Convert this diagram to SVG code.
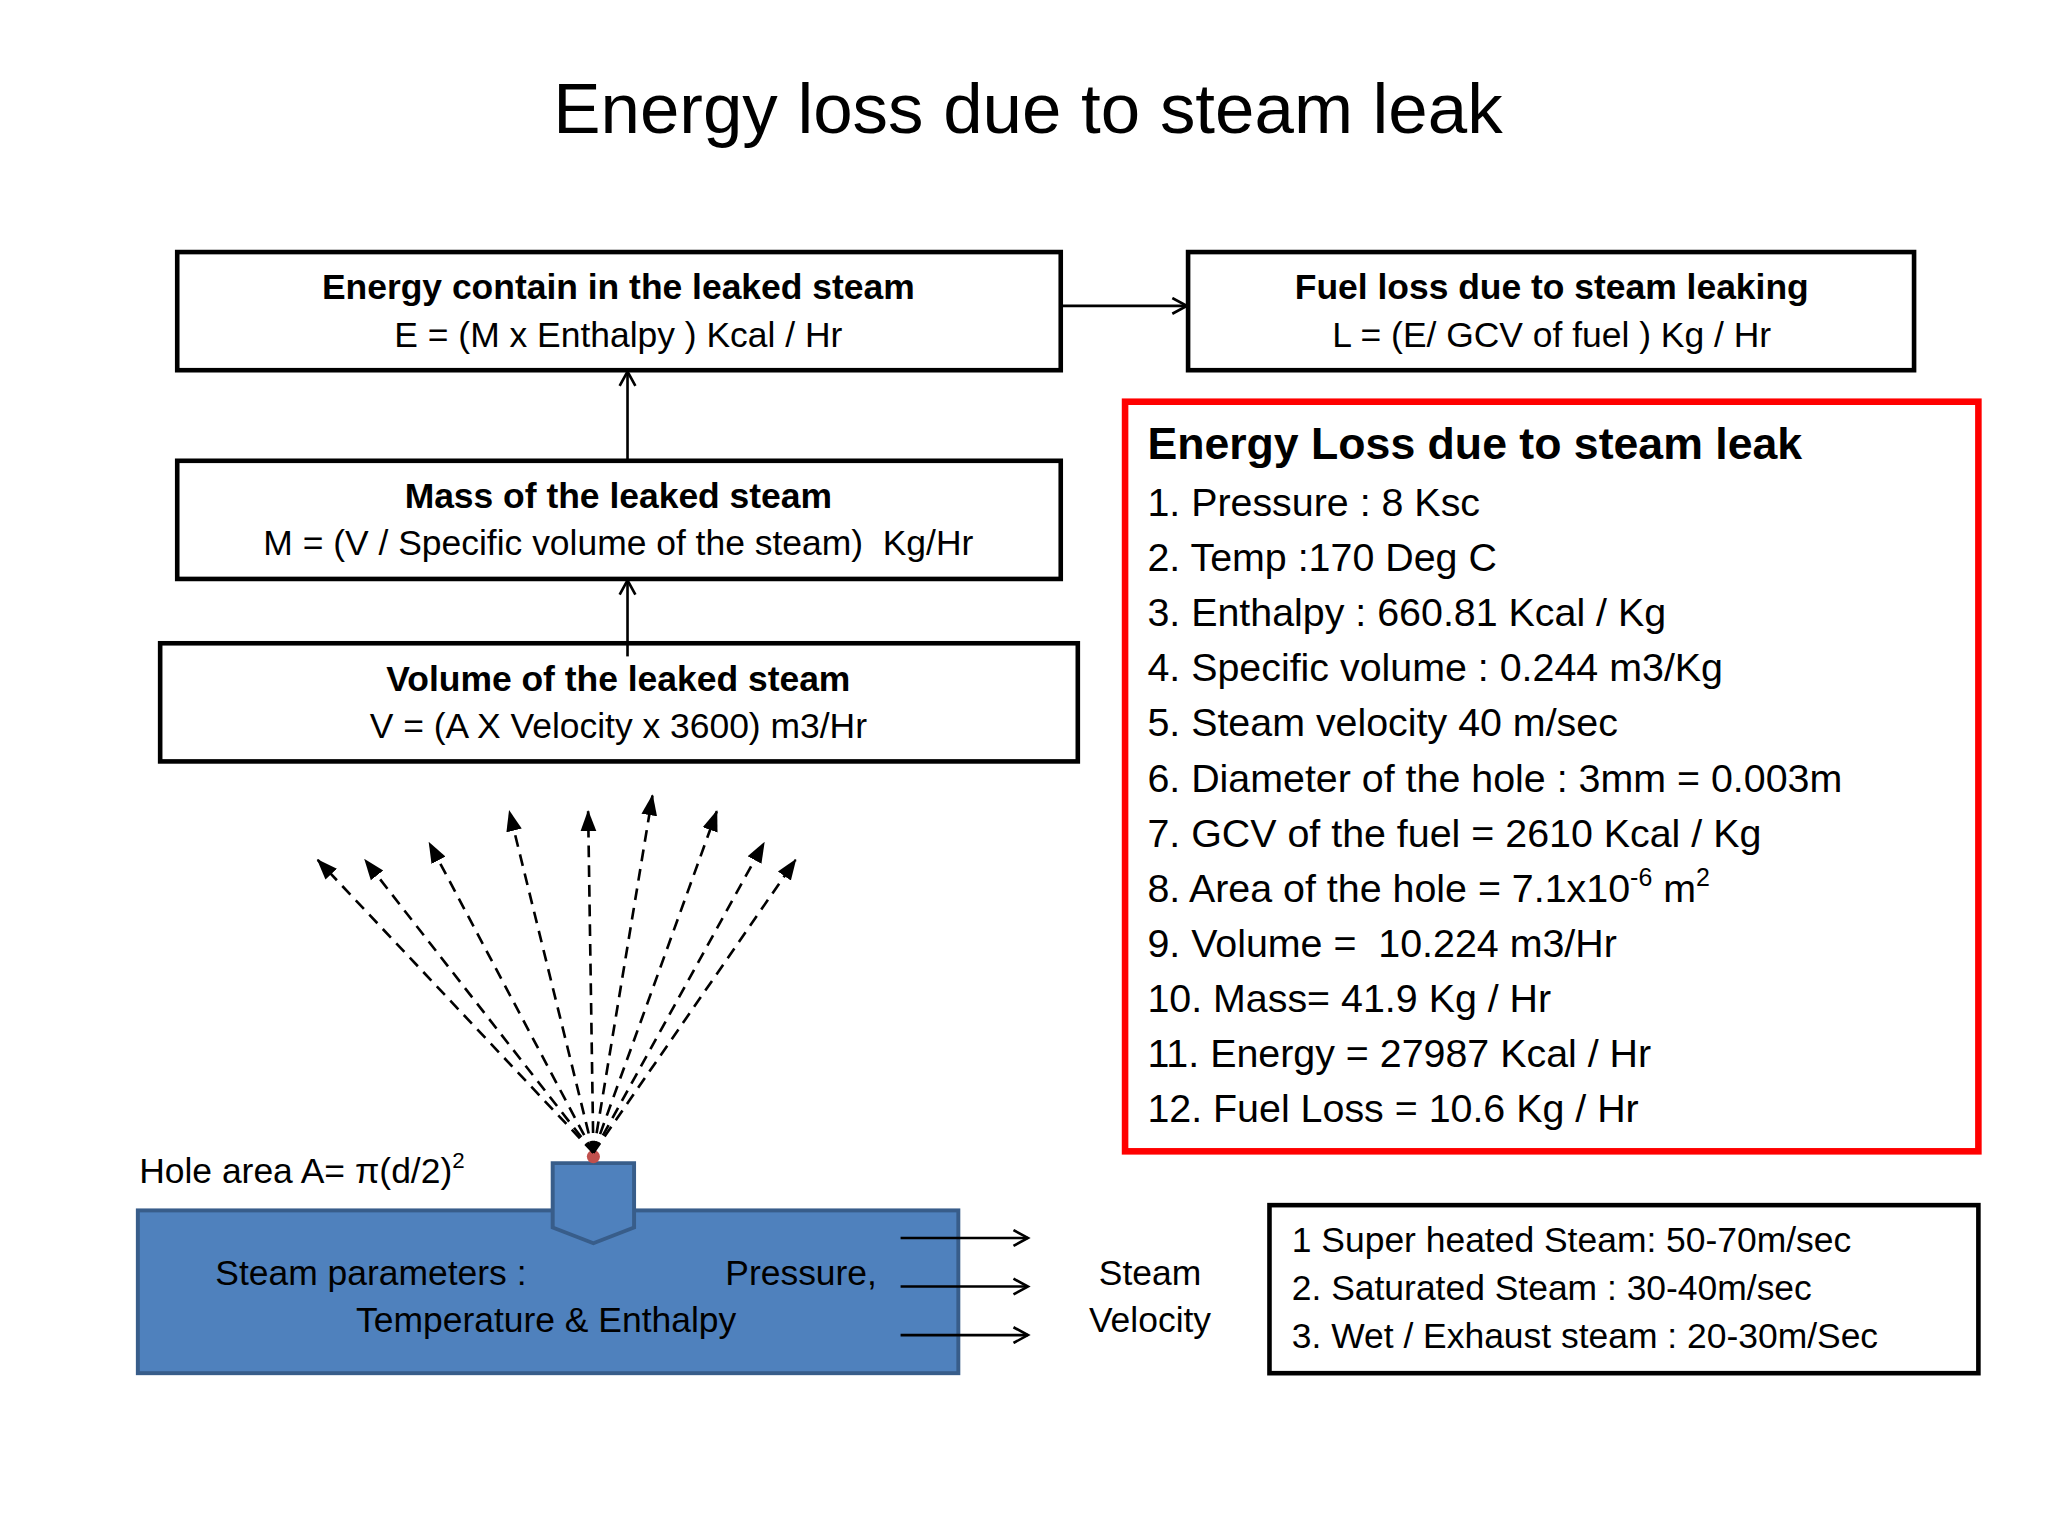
<svg xmlns="http://www.w3.org/2000/svg" width="2048" height="1536" viewBox="0 0 2048 1536">
<style>
text{font-family:"Liberation Sans","DejaVu Sans",sans-serif;fill:#000}
.bx{fill:#fff;stroke:#000;stroke-width:3.5}
.b{font-weight:bold;font-size:27px;text-anchor:middle}
.n{font-size:27px;text-anchor:middle}
.l{font-size:30px}
.c{stroke:#000;stroke-width:2;fill:none}
.d{stroke:#000;stroke-width:2;fill:none;stroke-dasharray:9 6}
</style>
<defs>
<marker id="oa" markerWidth="14" markerHeight="14" refX="12" refY="7" orient="auto" markerUnits="userSpaceOnUse"><path d="M1,1 L12,7 L1,13" fill="none" stroke="#000" stroke-width="2"/></marker>
<marker id="fa" markerWidth="16" markerHeight="14" refX="15" refY="7" orient="auto" markerUnits="userSpaceOnUse"><path d="M0,1 L16,7 L0,13 Z" fill="#000"/></marker>
</defs>
<rect width="2048" height="1536" fill="#fff"/>
<g transform="scale(1.3128)">
<text x="783" y="101" font-size="54" text-anchor="middle">Energy loss due to steam leak</text>
<g id="n-energy"><rect class="bx" x="135" y="192" width="673" height="90"/><text class="b" x="471" y="228">Energy contain in the leaked steam</text><text class="n" x="471" y="264">E = (M x Enthalpy ) Kcal / Hr</text></g>
<g id="n-fuel"><rect class="bx" x="905" y="192" width="553" height="90"/><text class="b" x="1182" y="228">Fuel loss due to steam leaking</text><text class="n" x="1182" y="264">L = (E/ GCV of fuel ) Kg / Hr</text></g>
<g id="n-mass"><rect class="bx" x="135" y="351" width="673" height="90"/><text class="b" x="471" y="387">Mass of the leaked steam</text><text class="n" x="471" y="423" xml:space="preserve">M = (V / Specific volume of the steam)  Kg/Hr</text></g>
<g id="n-volume"><rect class="bx" x="122" y="490" width="699" height="90"/><text class="b" x="471" y="526">Volume of the leaked steam</text><text class="n" x="471" y="562">V = (A X Velocity x 3600) m3/Hr</text></g>
<g id="n-results"><rect x="857" y="306" width="650" height="571" fill="#fff" stroke="#f00" stroke-width="5"/>
<text x="874" y="350" font-size="34" font-weight="bold">Energy Loss due to steam leak</text>
<text class="l" x="874" y="393">1. Pressure : 8 Ksc</text>
<text class="l" x="874" y="435">2. Temp :170 Deg C</text>
<text class="l" x="874" y="477">3. Enthalpy : 660.81 Kcal / Kg</text>
<text class="l" x="874" y="519">4. Specific volume : 0.244 m3/Kg</text>
<text class="l" x="874" y="561">5. Steam velocity 40 m/sec</text>
<text class="l" x="874" y="603">6. Diameter of the hole : 3mm = 0.003m</text>
<text class="l" x="874" y="645">7. GCV of the fuel = 2610 Kcal / Kg</text>
<text class="l" x="874" y="687">8. Area of the hole = 7.1x10<tspan font-size="19" dy="-12">-6</tspan><tspan dy="12"> m</tspan><tspan font-size="19" dy="-12">2</tspan></text>
<text class="l" x="874" y="729" xml:space="preserve">9. Volume =  10.224 m3/Hr</text>
<text class="l" x="874" y="771">10. Mass= 41.9 Kg / Hr</text>
<text class="l" x="874" y="813">11. Energy = 27987 Kcal / Hr</text>
<text class="l" x="874" y="855">12. Fuel Loss = 10.6 Kg / Hr</text></g>
<g id="n-pipe"><rect x="105" y="922" width="625" height="124" fill="#4f81bd" stroke="#385d8a" stroke-width="3"/>
<polygon points="421,886 483,886 483,935 452,947 421,935" fill="#4f81bd" stroke="#385d8a" stroke-width="3"/>
<circle cx="452" cy="881" r="5" fill="#c0504d"/>
<text x="164" y="979" font-size="27">Steam parameters :</text>
<text x="668" y="979" font-size="27" text-anchor="end">Pressure,</text>
<text class="n" x="416" y="1015">Temperature &amp; Enthalpy</text></g>
<text x="106" y="901" font-size="27">Hole area A= π(d/2)<tspan font-size="17" dy="-11">2</tspan></text>
<g id="n-velocity"><text class="n" x="876" y="979">Steam</text><text class="n" x="876" y="1015">Velocity</text></g>
<g id="n-ranges"><rect class="bx" x="967" y="918" width="540" height="128"/>
<text x="984" y="954" font-size="27">1 Super heated Steam: 50-70m/sec</text>
<text x="984" y="990" font-size="27">2. Saturated Steam : 30-40m/sec</text>
<text x="984" y="1027" font-size="27">3. Wet / Exhaust steam : 20-30m/Sec</text></g>
<g id="connectors">
<line class="c" x1="808" y1="233" x2="904" y2="233" marker-end="url(#oa)"/>
<line class="c" x1="478" y1="351" x2="478" y2="283" marker-end="url(#oa)"/>
<line class="c" x1="478" y1="500" x2="478" y2="442" marker-end="url(#oa)"/>
<line class="c" x1="686" y1="943" x2="783" y2="943" marker-end="url(#oa)"/>
<line class="c" x1="686" y1="980" x2="783" y2="980" marker-end="url(#oa)"/>
<line class="c" x1="686" y1="1017" x2="783" y2="1017" marker-end="url(#oa)"/>
<line class="d" x1="452" y1="878" x2="242" y2="655" marker-end="url(#fa)"/>
<line class="d" x1="452" y1="878" x2="278" y2="655" marker-end="url(#fa)"/>
<line class="d" x1="452" y1="878" x2="327" y2="642" marker-end="url(#fa)"/>
<line class="d" x1="452" y1="878" x2="388" y2="618" marker-end="url(#fa)"/>
<line class="d" x1="452" y1="878" x2="448" y2="618" marker-end="url(#fa)"/>
<line class="d" x1="452" y1="878" x2="497" y2="606" marker-end="url(#fa)"/>
<line class="d" x1="452" y1="878" x2="546" y2="618" marker-end="url(#fa)"/>
<line class="d" x1="452" y1="878" x2="582" y2="642" marker-end="url(#fa)"/>
<line class="d" x1="452" y1="878" x2="606" y2="655" marker-end="url(#fa)"/>
</g>
</g>
</svg>
